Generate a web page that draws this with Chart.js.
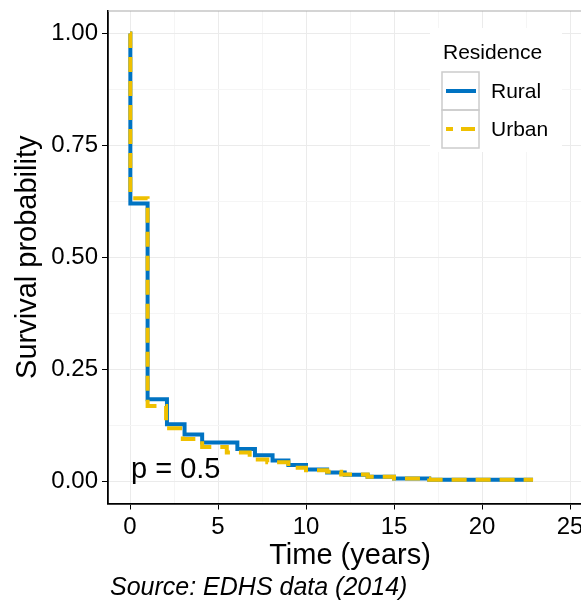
<!DOCTYPE html>
<html>
<head>
<meta charset="utf-8">
<script src="https://cdn.jsdelivr.net/npm/chart.js@4"></script>
<style>
  html, body { margin: 0; padding: 0; background: #fff; overflow: hidden; width: 581px; height: 600px; }
  #wrap { width: 600px; height: 600px; }
</style>
</head>
<body>
<div id="wrap"><canvas id="km" width="600" height="600"></canvas></div>
<script>
// Kaplan-Meier steps
var ruralTime = [0, 0.02, 1.0, 2.1, 3.1, 4.1, 6.1, 7.1, 8.1, 9.0, 10.0, 11.2, 12.2, 13.5, 15.0, 17.0, 22.9];
var ruralSurv = [1.0, 0.62, 0.183, 0.127, 0.104, 0.086, 0.072, 0.058, 0.046, 0.036, 0.026, 0.019, 0.014, 0.010, 0.006, 0.003, 0.003];
var urbanTime = [0, 0.02, 1.0, 2.05, 3.0, 4.1, 5.5, 6.8, 7.8, 9.0, 10.0, 11.2, 12.0, 13.5, 15.0, 17.0, 22.9];
var urbanSurv = [1.0, 0.632, 0.168, 0.118, 0.094, 0.076, 0.064, 0.048, 0.042, 0.030, 0.024, 0.021, 0.015, 0.010, 0.006, 0.003, 0.003];

var xTicks = [0, 2.5, 5, 7.5, 10, 12.5, 15, 17.5, 20, 22.5, 25];
var yTicks = [0, 0.125, 0.25, 0.375, 0.5, 0.625, 0.75, 0.875, 1];
var pText = 'p = 0.5';
var legendTitle = 'Residence';
var caption = 'Source: EDHS data (2014)';

var blue = '#0073C2';
var yellow = '#EFC000';
var font = '"Liberation Sans", Arial, sans-serif';

function pts(t, s) {
  return t.map(function (v, i) { return { x: v, y: s[i] }; });
}
function isMajor(v, step) {
  return Math.abs(v / step - Math.round(v / step)) < 1e-6;
}

var extras = {
  id: 'extras',
  beforeDatasetsDraw: function (chart) {
    var ctx = chart.ctx, a = chart.chartArea;
    ctx.save();
    ctx.strokeStyle = '#aaaaaa';
    ctx.lineWidth = 1.2;
    ctx.beginPath();
    ctx.moveTo(a.left, a.top);
    ctx.lineTo(a.right, a.top);
    ctx.stroke();
    ctx.restore();
  },
  afterDatasetsDraw: function (chart) {
    var ctx = chart.ctx;
    var xs = chart.scales.x, ys = chart.scales.y;
    ctx.save();
    // p value
    ctx.fillStyle = '#000';
    ctx.font = '29px ' + font;
    ctx.textBaseline = 'middle';
    ctx.textAlign = 'left';
    ctx.fillText(pText, xs.getPixelForValue(0) + 1, ys.getPixelForValue(0.025));

    // legend
    ctx.fillStyle = '#fff';
    ctx.fillRect(430, 28, 132, 124);
    ctx.fillStyle = '#000';
    ctx.font = '21px ' + font;
    ctx.fillText(legendTitle, 443, 53);
    var keys = [['Rural', blue, []], ['Urban', yellow, [14, 8]]];
    keys.forEach(function (k, i) {
      var top = 72 + i * 38;
      ctx.strokeStyle = '#cccccc';
      ctx.lineWidth = 1.5;
      ctx.setLineDash([]);
      ctx.strokeRect(442, top, 37, 38);
      ctx.strokeStyle = k[1];
      ctx.lineWidth = 4;
      ctx.setLineDash(k[2]);
      ctx.lineDashOffset = 7;
      ctx.beginPath();
      ctx.moveTo(446, top + 19);
      ctx.lineTo(476, top + 19);
      ctx.stroke();
      ctx.fillStyle = '#000';
      ctx.fillText(k[0], 491, top + 20);
    });

    // caption
    ctx.setLineDash([]);
    ctx.font = 'italic 25px ' + font;
    ctx.textBaseline = 'alphabetic';
    ctx.fillText(caption, 110, 595);
    ctx.restore();
  }
};

var kmChart = new Chart(document.getElementById('km'), {
  type: 'line',
  data: {
    datasets: [
      {
        label: 'Rural',
        data: pts(ruralTime, ruralSurv),
        borderColor: blue,
        borderWidth: 4,
        stepped: true,
        pointRadius: 0,
        fill: false,
        order: 2
      },
      {
        label: 'Urban',
        data: pts(urbanTime, urbanSurv),
        borderColor: yellow,
        borderWidth: 4,
        borderDash: [15, 9],
        stepped: true,
        pointRadius: 0,
        fill: false,
        order: 1
      }
    ]
  },
  options: {
    responsive: false,
    animation: false,
    layout: { padding: { top: 11, right: 8, bottom: 28, left: 0 } },
    plugins: {
      legend: { display: false },
      tooltip: { enabled: false }
    },
    scales: {
      x: {
        type: 'linear',
        min: -1.25,
        max: 26.25,
        afterBuildTicks: function (s) { s.ticks = xTicks.map(function (v) { return { value: v }; }); },
        afterFit: function (s) { s.height = 68.5; },
        ticks: {
          color: '#000',
          font: { family: font, size: 24 },
          padding: 3,
          maxRotation: 0,
          autoSkip: false,
          callback: function (v) { return isMajor(v, 5) ? String(v) : ''; }
        },
        grid: {
          color: function (c) { return isMajor(c.tick.value, 5) ? '#ebebeb' : '#f5f5f5'; },
          tickColor: function (c) { return isMajor(c.tick.value, 5) ? '#000' : 'rgba(0,0,0,0)'; },
          tickLength: 6
        },
        border: { color: '#000', width: 1.8 },
        title: {
          display: true,
          text: 'Time (years)',
          color: '#000',
          font: { family: font, size: 29, lineHeight: 1.1 },
          padding: { top: 0, bottom: 0 }
        }
      },
      y: {
        type: 'linear',
        min: -0.05,
        max: 1.05,
        afterBuildTicks: function (s) { s.ticks = yTicks.map(function (v) { return { value: v }; }); },
        afterFit: function (s) { s.width = 108; s.paddingTop = 0; s.paddingBottom = 0; },
        ticks: {
          color: '#000',
          font: { family: font, size: 24 },
          padding: 4,
          autoSkip: false,
          callback: function (v) { return isMajor(v, 0.25) ? v.toFixed(2) : ''; }
        },
        grid: {
          color: function (c) { return isMajor(c.tick.value, 0.25) ? '#ebebeb' : '#f5f5f5'; },
          tickColor: function (c) { return isMajor(c.tick.value, 0.25) ? '#000' : 'rgba(0,0,0,0)'; },
          tickLength: 6
        },
        border: { color: '#000', width: 1.8 },
        title: {
          display: true,
          text: 'Survival probability',
          color: '#000',
          font: { family: font, size: 29, lineHeight: 1.2 },
          padding: { top: 11, bottom: 0 }
        }
      }
    }
  },
  plugins: [extras]
});
</script>
</body>
</html>
